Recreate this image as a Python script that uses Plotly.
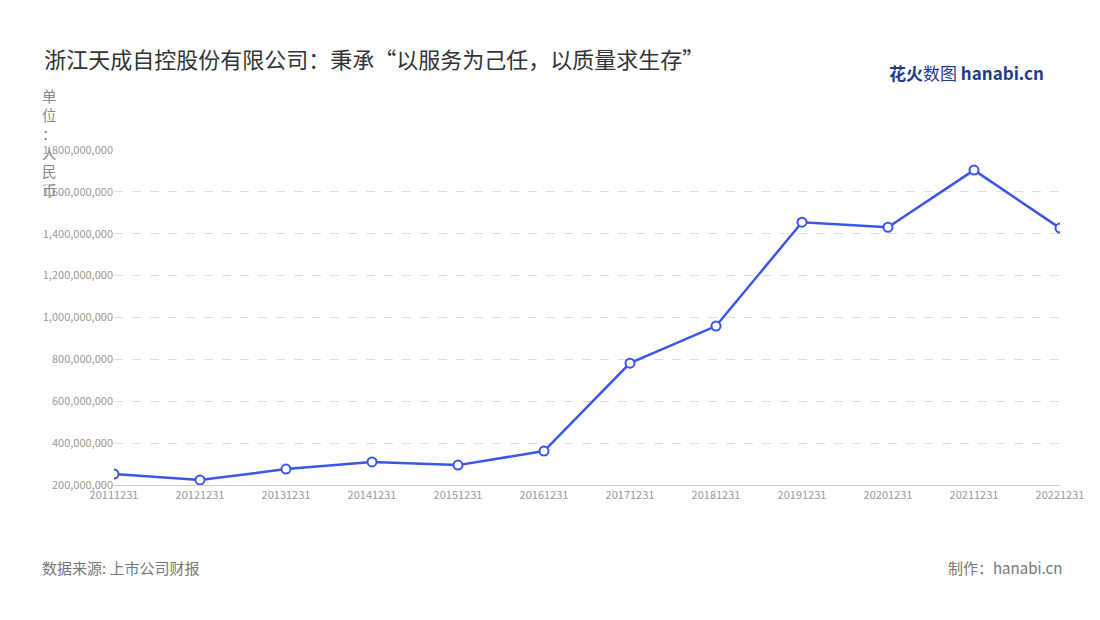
import plotly.graph_objects as go

years = ["20111231", "20121231", "20131231", "20141231", "20151231", "20161231",
         "20171231", "20181231", "20191231", "20201231", "20211231", "20221231"]
revenue = [252e6, 224e6, 276e6, 310e6, 295e6, 362e6,
           782e6, 959e6, 1455e6, 1431e6, 1704e6, 1427e6]
y_ticks = [200e6 * i for i in range(1, 10)]

font = "Noto Sans CJK SC"

fig = go.Figure()
fig.add_scatter(x=years, y=revenue, mode="lines+markers",
                line=dict(color="#3a56e8", width=2.5),
                marker=dict(size=9, color="white", line=dict(color="#3a56e8", width=2)))

fig.update_layout(
    width=1100, height=620, paper_bgcolor="white", plot_bgcolor="white",
    margin=dict(l=106, r=48, t=142, b=143),
    font=dict(family=font, color="#999"),
    showlegend=False,
    title=dict(text="浙江天成自控股份有限公司：秉承“以服务为己任，以质量求生存”",
               x=0.033, xanchor="left", y=0.915, yanchor="middle",
               font=dict(size=22, color="#333")),
    xaxis=dict(type="category", range=[0, 11], showgrid=False, showline=True,
               linecolor="#ccc", ticks="", tickfont=dict(size=11, color="#999")),
    yaxis=dict(range=[200e6, 1800e6], tickvals=y_ticks, tickformat=",d",
               showgrid=True, gridcolor="#ddd", griddash="dash", zeroline=False,
               tickfont=dict(size=11, color="#999")),
)
fig.add_annotation(text="单<br>位<br>：<br>人<br>民<br>币", xref="paper", yref="paper",
                   x=-0.068, y=1.2, xanchor="center", yanchor="top", showarrow=False,
                   font=dict(size=14.5, color="#888"))
fig.add_annotation(text="数据来源: 上市公司财报", xref="paper", yref="paper",
                   x=-0.078, y=-0.245, xanchor="left", yanchor="middle", showarrow=False,
                   font=dict(size=15, color="#777"))
fig.add_annotation(text="制作：hanabi.cn", xref="paper", yref="paper",
                   x=1.004, y=-0.245, xanchor="right", yanchor="middle", showarrow=False,
                   font=dict(size=15, color="#777"))
fig.add_annotation(text="<b>花火</b>数图 <b>hanabi.cn</b>", xref="paper", yref="paper",
                   x=0.985, y=1.23, xanchor="right", yanchor="middle", showarrow=False,
                   font=dict(size=17, color="#1f3a8a"))
fig.write_html("out.html")
